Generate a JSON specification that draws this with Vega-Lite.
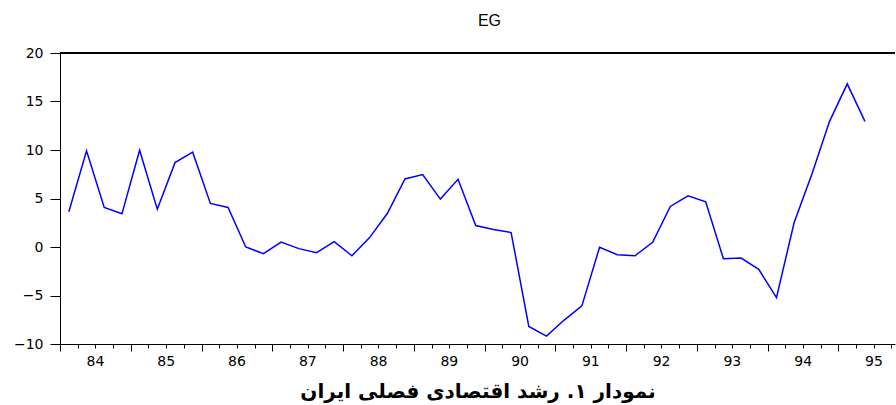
{
  "$schema": "https://vega.github.io/schema/vega-lite/v6.json",
  "autosize": {"type": "none"},
  "padding": {"left": 60, "top": 53, "right": 1, "bottom": 61},
  "width": 835,
  "height": 291,
  "background": "white",
  "config": {
    "view": {"stroke": null},
    "font": "DejaVu Sans"
  },
  "title": {
    "text": "EG",
    "frame": "group",
    "anchor": "middle",
    "baseline": "alphabetic",
    "offset": 4,
    "dx": 12,
    "font": "Liberation Sans",
    "fontSize": 16,
    "fontWeight": "normal",
    "color": "#000000"
  },
  "data": {
    "values": [
      {"t": 84.125, "EG": 3.63},
      {"t": 84.375, "EG": 9.91},
      {"t": 84.625, "EG": 4.08},
      {"t": 84.875, "EG": 3.42},
      {"t": 85.125, "EG": 9.98},
      {"t": 85.375, "EG": 3.90},
      {"t": 85.625, "EG": 8.70},
      {"t": 85.875, "EG": 9.78},
      {"t": 86.125, "EG": 4.49},
      {"t": 86.375, "EG": 4.08},
      {"t": 86.625, "EG": 0.0},
      {"t": 86.875, "EG": -0.69},
      {"t": 87.125, "EG": 0.50},
      {"t": 87.375, "EG": -0.17},
      {"t": 87.625, "EG": -0.59},
      {"t": 87.875, "EG": 0.55},
      {"t": 88.125, "EG": -0.90},
      {"t": 88.375, "EG": 0.97},
      {"t": 88.625, "EG": 3.45},
      {"t": 88.875, "EG": 7.01},
      {"t": 89.125, "EG": 7.46},
      {"t": 89.375, "EG": 4.94},
      {"t": 89.625, "EG": 6.98},
      {"t": 89.875, "EG": 2.21},
      {"t": 90.125, "EG": 1.80},
      {"t": 90.375, "EG": 1.49},
      {"t": 90.625, "EG": -8.19},
      {"t": 90.875, "EG": -9.19},
      {"t": 91.125, "EG": -7.53},
      {"t": 91.375, "EG": -6.07},
      {"t": 91.625, "EG": -0.02},
      {"t": 91.875, "EG": -0.79},
      {"t": 92.125, "EG": -0.90},
      {"t": 92.375, "EG": 0.48},
      {"t": 92.625, "EG": 4.18},
      {"t": 92.875, "EG": 5.28},
      {"t": 93.125, "EG": 4.66},
      {"t": 93.375, "EG": -1.21},
      {"t": 93.625, "EG": -1.14},
      {"t": 93.875, "EG": -2.31},
      {"t": 94.125, "EG": -5.22},
      {"t": 94.375, "EG": 2.52},
      {"t": 94.625, "EG": 7.50},
      {"t": 94.875, "EG": 12.95},
      {"t": 95.125, "EG": 16.82},
      {"t": 95.375, "EG": 12.95}
    ]
  },
  "layer": [
    {
      "mark": {"type": "rule", "color": "#000000", "strokeWidth": 1},
      "encoding": {"y": {"datum": 20, "type": "quantitative"}}
    },
    {
      "mark": {"type": "line", "color": "#0000FF", "strokeWidth": 1.5},
      "encoding": {
        "x": {
          "field": "t",
          "type": "quantitative",
          "scale": {"domain": [84, 95.8], "nice": false, "zero": false},
          "axis": {
            "title": "نمودار ۱. رشد اقتصادی فصلی ایران",
            "titleFont": "DejaVu Sans",
            "titleFontSize": 20,
            "titleFontWeight": "bold",
            "titleColor": "#000000",
            "titlePadding": 13,
            "values": [84, 84.25, 84.5, 84.75, 85, 85.25, 85.5, 85.75, 86, 86.25, 86.5, 86.75, 87, 87.25, 87.5, 87.75, 88, 88.25, 88.5, 88.75, 89, 89.25, 89.5, 89.75, 90, 90.25, 90.5, 90.75, 91, 91.25, 91.5, 91.75, 92, 92.25, 92.5, 92.75, 93, 93.25, 93.5, 93.75, 94, 94.25, 94.5, 94.75, 95, 95.25, 95.5, 95.75],
            "labelExpr": "datum.value % 1 === 0 ? format(datum.value, 'd') : ''",
            "labelOffset": 35,
            "labelFlush": false,
            "labelBound": false,
            "labelOverlap": false,
            "labelFont": "DejaVu Sans",
            "labelFontSize": 14,
            "labelColor": "#000000",
            "labelPadding": 3,
            "tickSize": {"condition": {"test": "datum.value % 1 === 0", "value": 7}, "value": 4},
            "tickColor": "#000000",
            "domainColor": "#000000",
            "grid": false
          }
        },
        "y": {
          "field": "EG",
          "type": "quantitative",
          "scale": {"domain": [-10, 20], "nice": false, "zero": false},
          "axis": {
            "title": null,
            "values": [-10, -5, 0, 5, 10, 15, 20],
            "tickSize": 10,
            "labelPadding": 7,
            "labelFont": "DejaVu Sans",
            "labelFontSize": 14,
            "labelColor": "#000000",
            "tickColor": "#000000",
            "domainColor": "#000000",
            "grid": false
          }
        }
      }
    }
  ]
}
